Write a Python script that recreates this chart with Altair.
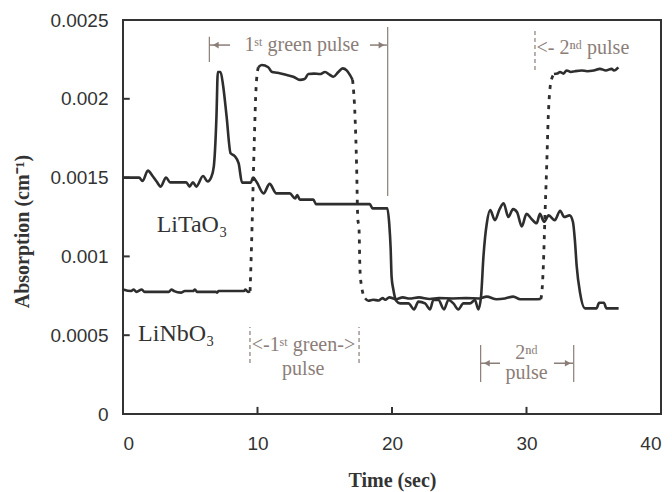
import altair as alt
import pandas as pd

# ---------------- data ----------------
# LiTaO3 (solid trace)
ta_t = [0, 1.2, 1.45, 1.85, 2.2, 2.5, 2.8, 3.2, 3.5, 4.7, 4.95, 5.2, 5.45, 5.95, 6.3, 6.55,
        6.75, 6.95, 7.05, 7.25, 7.45, 7.7, 8.0, 8.3, 8.6, 8.85, 9.5, 9.67, 9.95, 10.45, 10.9,
        11.4, 12.4, 12.8, 12.95, 13.15, 14.15, 14.35, 18.35, 18.55, 19.65, 19.8, 19.9, 19.97,
        20.1, 20.3, 20.6, 21.22, 21.64, 21.96, 22.46, 22.83, 23.07, 23.45, 23.87, 24.19, 24.56,
        24.93, 25.31, 25.8, 26.17, 26.42, 26.62, 26.8, 26.92, 27.05, 27.3, 27.65, 28.0, 28.3,
        28.65, 29.0, 29.3, 29.65, 30.0, 30.35, 30.75, 31.0, 31.3, 31.65, 32.1, 32.5, 32.8,
        33.2, 33.45, 33.6, 33.73, 33.98, 34.35, 35.2, 35.4, 35.75, 35.95, 36.85]
ta_v = [0.0015, 0.0015, 0.001478, 0.001544, 0.00151, 0.001475, 0.001443, 0.0015, 0.00147,
        0.00147, 0.001443, 0.00147, 0.001443, 0.00151, 0.001475, 0.0015, 0.00157, 0.00189,
        0.00217, 0.00217, 0.00208, 0.00189, 0.001654, 0.001637, 0.00159, 0.001468, 0.001468,
        0.0015, 0.00147, 0.0014, 0.00146, 0.0014, 0.0014, 0.001368, 0.00139, 0.00136, 0.00136,
        0.001332, 0.001332, 0.001305, 0.001305, 0.0012, 0.00105, 0.00087, 0.00079, 0.00072,
        0.000702, 0.000702, 0.000664, 0.000713, 0.000702, 0.000664, 0.000723, 0.000723,
        0.000664, 0.000723, 0.000702, 0.000664, 0.000702, 0.000702, 0.000723, 0.000664,
        0.000745, 0.0010, 0.00112, 0.00121, 0.001294, 0.00123, 0.0013, 0.001337, 0.00125,
        0.0013, 0.00128, 0.00119, 0.00127, 0.00124, 0.00121, 0.00127, 0.00122, 0.00126,
        0.00123, 0.00129, 0.00125, 0.00126, 0.00122, 0.0011, 0.00094, 0.00077, 0.00067,
        0.00067, 0.000706, 0.000706, 0.00067, 0.00067]

# LiNbO3 (trace drawn dashed during the fast transitions)
nb_t = [0, 0.6, 0.8, 1.0, 1.4, 1.6, 3.4, 3.6, 3.8, 4.3, 4.6, 5.2, 5.35, 5.5, 6.9, 7.0, 7.1,
        9.0, 9.1, 9.3, 9.45, 9.6, 9.75, 9.9, 10.06, 10.31, 10.8, 11.05, 11.5, 12.17, 12.66,
        13.16, 13.5, 13.78, 14.2, 14.64, 15.02, 15.39, 15.64, 16.01, 16.33, 16.63, 16.88,
        17.07, 17.25, 17.37, 17.45, 17.55, 17.62, 17.74, 18.0, 18.24, 18.6, 19.0, 19.3, 19.5,
        19.8, 20.3, 20.8, 21.3, 22.0, 22.8, 23.5, 24.5, 25.5, 26.5, 27.04, 27.78, 28.4, 29.02,
        29.52, 30.2, 30.6, 31.06, 31.13, 31.25, 31.37, 31.5, 31.62, 31.8, 32.04, 32.3, 32.49,
        32.75, 32.98, 33.3, 33.6, 34.1, 34.5, 35.0, 35.46, 35.9, 36.33, 36.5, 36.83]
nb_v = [0.00079, 0.00078, 0.00079, 0.000775, 0.00079, 0.000775, 0.000775, 0.00079, 0.00078,
        0.00077, 0.00078, 0.00078, 0.00079, 0.000775, 0.000775, 0.00077, 0.00078, 0.00078,
        0.00079, 0.000775, 0.00078, 0.0012, 0.0017, 0.00208, 0.0022, 0.002214, 0.0022,
        0.002172, 0.002165, 0.002151, 0.00214, 0.00212, 0.002125, 0.002157, 0.00216,
        0.002157, 0.00217, 0.002151, 0.00214, 0.00217, 0.002193, 0.00218, 0.00215, 0.00212,
        0.00189, 0.00157, 0.00125, 0.00117, 0.000914, 0.000808, 0.000734, 0.000719,
        0.000725, 0.00072, 0.000735, 0.000725, 0.00074, 0.000728, 0.00074, 0.000733,
        0.00074, 0.00073, 0.000735, 0.000733, 0.000735, 0.000733, 0.000745, 0.000728,
        0.000733, 0.000745, 0.000728, 0.000728, 0.000728, 0.00073, 0.00076, 0.000935,
        0.00125, 0.00157, 0.00189, 0.0021, 0.002157, 0.00216, 0.00217, 0.00216, 0.00218,
        0.00217, 0.002175, 0.00218, 0.002175, 0.00218, 0.00219, 0.00218, 0.00219, 0.00218,
        0.0022]
nb_dash_ranges = [(9.45, 10.06), (17.07, 18.0), (31.06, 32.04)]

# axis ticks
x_ticks = [0, 10, 20, 30, 40]
y_ticks = [0, 0.0005, 0.001, 0.0015, 0.002, 0.0025]

# annotation marker bars
bar_t = [6.42, 19.68, 30.63, 9.44, 17.55, 26.59, 33.51]
bar_lo = [0.002234, 0.001383, 0.002183, 0.000324, 0.000324, 0.000203, 0.000203]
bar_hi = [0.002393, 0.002456, 0.002437, 0.000552, 0.000552, 0.000438, 0.000438]
bar_dashed = [False, False, True, True, True, False, False]

# annotation arrows (shaft start/end, height, head position, head direction)
arr_t0 = [6.45, 18.36, 26.62, 32.04]
arr_t1 = [7.96, 19.62, 28.03, 33.47]
arr_v = [0.002341, 0.002341, 0.000322, 0.000322]
arr_head = [6.9, 19.22, 27.05, 33.07]
arr_dir = ["triangle-left", "triangle-right", "triangle-left", "triangle-right"]

# annotation texts
ann_text = ["1ˢᵗ green pulse", "<-1ˢᵗ green->", "pulse", "2ⁿᵈ", "pulse"]
ann_t = [13.29, 13.42, 13.4, 30.0, 30.0]
ann_v = [0.002341, 0.000438, 0.000284, 0.000387, 0.00026]
ann2_text = ["<- 2ⁿᵈ pulse"]
ann2_t = [30.75]
ann2_v = [0.002322]

lab_text = ["LiTaO₃", "LiNbO₃"]
lab_t = [2.5, 1.12]
lab_v = [0.0012, 0.00051]

# ---------------- build tables ----------------
ta_df = pd.DataFrame({"t": ta_t, "v": ta_v})

nb_rows = []
bounds = [0.0]
for a, b in nb_dash_ranges:
    bounds += [a, b]
bounds.append(max(nb_t))
for i in range(len(bounds) - 1):
    lo, hi = bounds[i], bounds[i + 1]
    style = "dash" if i % 2 == 1 else "solid"
    for t, v in zip(nb_t, nb_v):
        if lo <= t <= hi:
            nb_rows.append({"t": t, "v": v, "seg": i, "style": style})
nb_df = pd.DataFrame(nb_rows)

bar_df = pd.DataFrame({"t": bar_t, "v": bar_lo, "v2": bar_hi, "dashed": bar_dashed})
arr_df = pd.DataFrame({"t": arr_t0, "t2": arr_t1, "v": arr_v})
head_df = pd.DataFrame({"t": arr_head, "v": arr_v, "shape": arr_dir})
ann_df = pd.DataFrame({"t": ann_t, "v": ann_v, "text": ann_text})
ann2_df = pd.DataFrame({"t": ann2_t, "v": ann2_v, "text": ann2_text})
lab_df = pd.DataFrame({"t": lab_t, "v": lab_v, "text": lab_text})
xt_df = pd.DataFrame({"t": x_ticks, "v": [0] * len(x_ticks), "v2": [0.000045] * len(x_ticks)})
yt_df = pd.DataFrame({"t": [0] * len(y_ticks), "t2": [0.5] * len(y_ticks), "v": y_ticks})

# ---------------- styling ----------------
LINE = "#2e2e2e"
ANN = "#8b7d78"
AX = "#333333"

xs = alt.Scale(domain=[0, 40], nice=False, zero=False)
ys = alt.Scale(domain=[0, 0.0025], nice=False)

x_axis = alt.Axis(values=x_ticks, ticks=False, grid=False, domain=False,
                  labelFont="Liberation Sans", labelFontSize=19, labelColor=AX,
                  labelPadding=20, title="Time (sec)", titleFont="Liberation Serif",
                  titleFontSize=20, titleFontWeight="bold", titleColor=AX,
                  titleY=66, titleBaseline="middle")
y_axis = alt.Axis(values=y_ticks, ticks=False, grid=False, domain=False, format="~g",
                  labelFont="Liberation Sans", labelFontSize=19, labelColor=AX,
                  labelPadding=15, title="Absorption (cm⁻¹)", titleFont="Liberation Serif",
                  titleFontSize=20, titleFontWeight="bold", titleColor=AX,
                  titleX=-101, titleY=211, titleBaseline="middle", titleAngle=270)

X = alt.X("t:Q", scale=xs, axis=x_axis)
Y = alt.Y("v:Q", scale=ys, axis=y_axis)

ta_line = alt.Chart(ta_df).mark_line(color=LINE, strokeWidth=2.6, interpolate="monotone").encode(x=X, y=Y)

nb_solid = alt.Chart(nb_df).transform_filter(alt.datum.style == "solid").mark_line(
    color=LINE, strokeWidth=2.6, interpolate="monotone").encode(x=X, y=Y, detail="seg:N")
nb_dash = alt.Chart(nb_df).transform_filter(alt.datum.style == "dash").mark_line(
    color=LINE, strokeWidth=2.8, strokeDash=[4, 6], interpolate="monotone").encode(x=X, y=Y, detail="seg:N")

bars_solid = alt.Chart(bar_df).transform_filter(alt.datum.dashed == False).mark_rule(
    color=ANN, strokeWidth=1.2).encode(x=X, y=Y, y2="v2:Q")
bars_dash = alt.Chart(bar_df).transform_filter(alt.datum.dashed == True).mark_rule(
    color=ANN, strokeWidth=1.2, strokeDash=[4, 3]).encode(x=X, y=Y, y2="v2:Q")

arrows = alt.Chart(arr_df).mark_rule(color=ANN, strokeWidth=1.5).encode(x=X, x2="t2:Q", y=Y)
heads = alt.Chart(head_df).mark_point(filled=True, color=ANN, opacity=1, size=45).encode(
    x=X, y=Y, shape=alt.Shape("shape:N", scale=None, legend=None))

ann = alt.Chart(ann_df).mark_text(font="Liberation Serif", fontSize=20, color=ANN,
                                  align="center", baseline="middle").encode(x=X, y=Y, text="text:N")
ann2 = alt.Chart(ann2_df).mark_text(font="Liberation Serif", fontSize=20, color=ANN,
                                    align="left", baseline="middle").encode(x=X, y=Y, text="text:N")
labs = alt.Chart(lab_df).mark_text(font="Liberation Serif", fontSize=24, color=AX,
                                   align="left", baseline="middle").encode(x=X, y=Y, text="text:N")

xt = alt.Chart(xt_df).mark_rule(color=AX, strokeWidth=2).encode(x=X, y=Y, y2="v2:Q")
yt = alt.Chart(yt_df).mark_rule(color=AX, strokeWidth=2).encode(x=X, x2="t2:Q", y=Y)

chart = alt.layer(
    xt, yt, bars_solid, bars_dash, arrows, heads, ta_line, nb_solid, nb_dash, ann, ann2, labs
).properties(
    width=538, height=394,
    autosize=alt.AutoSizeParams(type="none"),
    padding={"left": 123, "top": 20, "right": 11, "bottom": 78},
    background="white",
).configure_view(stroke=AX, strokeWidth=2)

chart.save("out.html", embed_options={"renderer": "svg", "actions": False})
